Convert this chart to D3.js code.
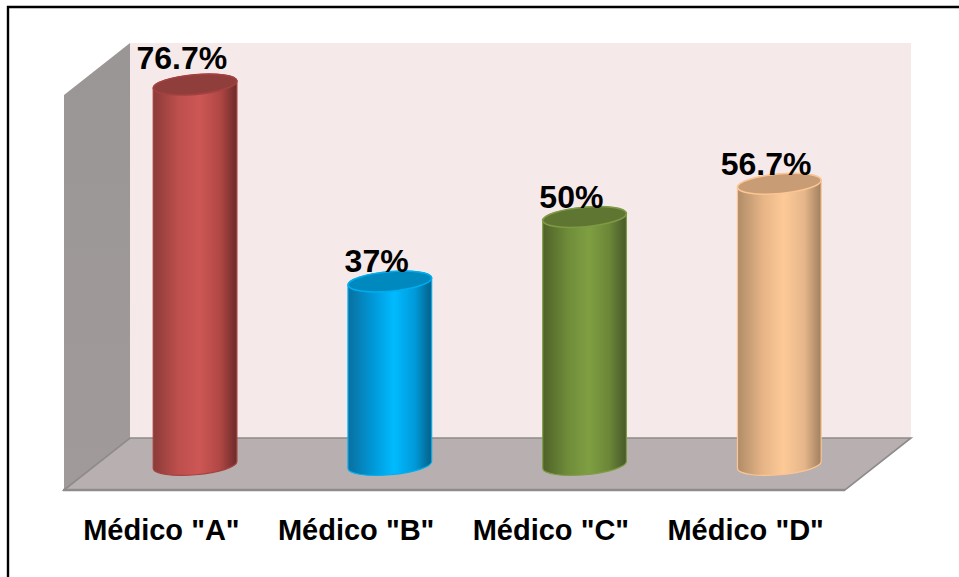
<!DOCTYPE html>
<html>
<head>
<meta charset="utf-8">
<script src="https://cdn.jsdelivr.net/npm/d3@7"></script>
<style>
  html, body { margin: 0; padding: 0; background: #fff; }
  svg { display: block; }
  text { font-family: "Liberation Sans", Arial, sans-serif; font-weight: bold; fill: #000; }
</style>
</head>
<body>
<svg id="chart" width="959" height="577"></svg>
<script>
// Share of each physician, in percent
const categories = ['Médico "A"', 'Médico "B"', 'Médico "C"', 'Médico "D"'];
const values = [76.7, 37, 50, 56.7];
const valueLabels = ['76.7%', '37%', '50%', '56.7%'];
const labelLift = [15.5, 9, 9, 9];

// Horizontal shading of each cylinder: edge, body, highlight, shoulder, edge
const bodyShades = [
  ['#8c3b39', '#bd4f4c', '#cd5755', '#b04744', '#6b2b2a'],
  ['#0a6f9e', '#0098d8', '#00bbff', '#009ada', '#055f86'],
  ['#4e6228', '#6f8c3a', '#7f9f42', '#6b8637', '#46582a'],
  ['#b08c68', '#e6b486', '#fdc997', '#e6b68a', '#a07f5f']
];
const capFills = ['#8f3e3c', '#0089bf', '#5f7632', '#c89c74'];
const rimStrokes = ['#a34240', '#00aeef', '#7f9a45', '#fcc593'];

const svg = d3.select('#chart');
const defs = svg.append('defs');

// Chart box: front plane of the floor plus the depth offset of the back wall
const front = { left: 64, right: 845, bottom: 490 };
const depth = { x: 66, y: 52 };
const wallTop = 43;
const backShift = 33.7;

const x = d3.scaleBand().domain(categories).range([front.left, front.right - 2]);
const y = d3.scaleLinear().domain([0, 100]).range([465, -31]);

const radiusX = 42;
const radiusY = 9.8;
const tilt = -5;
const tiltRad = tilt * Math.PI / 180;

// Outer frame: only the top and left edges are inked
svg.append('path')
  .attr('d', d3.line()([[8, 577], [8, 7], [959, 7]]))
  .attr('fill', 'none').attr('stroke', '#000').attr('stroke-width', 2.4);

// Back wall
svg.append('rect')
  .attr('x', front.left + depth.x).attr('y', wallTop)
  .attr('width', front.right - front.left).attr('height', front.bottom - depth.y - wallTop)
  .attr('fill', '#f5e9e9');

// Side wall
const sideGrad = defs.append('linearGradient').attr('id', 'side')
  .attr('x1', 0).attr('x2', 0).attr('y1', 0).attr('y2', 1);
sideGrad.append('stop').attr('offset', 0).attr('stop-color', '#9b9696');
sideGrad.append('stop').attr('offset', 1).attr('stop-color', '#a09a9a');
svg.append('path')
  .attr('d', d3.line()([
    [front.left, wallTop + depth.y],
    [front.left + depth.x, wallTop],
    [front.left + depth.x, front.bottom - depth.y],
    [front.left, front.bottom]
  ]) + 'Z')
  .attr('fill', 'url(#side)');

// Floor
svg.append('path')
  .attr('d', d3.line()([
    [front.left, front.bottom],
    [front.left + depth.x, front.bottom - depth.y],
    [front.right + depth.x, front.bottom - depth.y],
    [front.right, front.bottom]
  ]) + 'Z')
  .attr('fill', '#b8b0b0').attr('stroke', '#8e8b8b').attr('stroke-width', 1.6);
svg.append('line')
  .attr('x1', front.left - 1).attr('x2', front.right)
  .attr('y1', front.bottom).attr('y2', front.bottom)
  .attr('stroke', '#8e8b8b').attr('stroke-width', 2.4);

// Body gradients
const shadeStops = [0, 0.3, 0.55, 0.8, 1];
bodyShades.forEach((shades, i) => {
  const g = defs.append('linearGradient').attr('id', 'body' + i);
  shades.forEach((c, k) => g.append('stop').attr('offset', shadeStops[k]).attr('stop-color', c));
});

// Cylinders
const dx = radiusX * Math.cos(tiltRad);
const dy = radiusX * Math.sin(tiltRad);
const bars = svg.selectAll('g.bar').data(values).join('g').attr('class', 'bar');

bars.each(function (v, i) {
  const g = d3.select(this);
  const cx = x(categories[i]) + x.bandwidth() / 2 + backShift;
  const top = y(v);
  const base = y(0);
  const arc = `A${radiusX},${radiusY} ${tilt} 0 1`;
  g.append('path')
    .attr('d', `M${cx - dx},${top - dy} ${arc} ${cx + dx},${top + dy} L${cx + dx},${base + dy} ` +
               `A${radiusX},${radiusY} ${tilt} 0 1 ${cx - dx},${base - dy} Z`)
    .attr('fill', `url(#body${i})`)
    .attr('stroke', rimStrokes[i]).attr('stroke-width', 1.2);
  g.append('ellipse')
    .attr('rx', radiusX).attr('ry', radiusY)
    .attr('transform', `translate(${cx},${top}) rotate(${tilt})`)
    .attr('fill', capFills[i])
    .attr('stroke', rimStrokes[i]).attr('stroke-width', 1.6);
});

// Value labels
svg.selectAll('text.value').data(values).join('text')
  .attr('class', 'value')
  .attr('x', (d, i) => x(categories[i]) + x.bandwidth() / 2 + backShift - 13.2)
  .attr('y', (d, i) => y(d) - labelLift[i])
  .attr('text-anchor', 'middle')
  .style('font-size', '32px')
  .text((d, i) => valueLabels[i]);

// Category axis along the front edge of the floor
const axis = svg.append('g')
  .attr('transform', `translate(0,${front.bottom})`)
  .call(d3.axisBottom(x).tickSize(0).tickPadding(29));
axis.select('.domain').remove();
axis.selectAll('text')
  .style('font-family', '"Liberation Sans", Arial, sans-serif')
  .style('font-weight', 'bold')
  .style('font-size', '29px');
</script>
</body>
</html>
